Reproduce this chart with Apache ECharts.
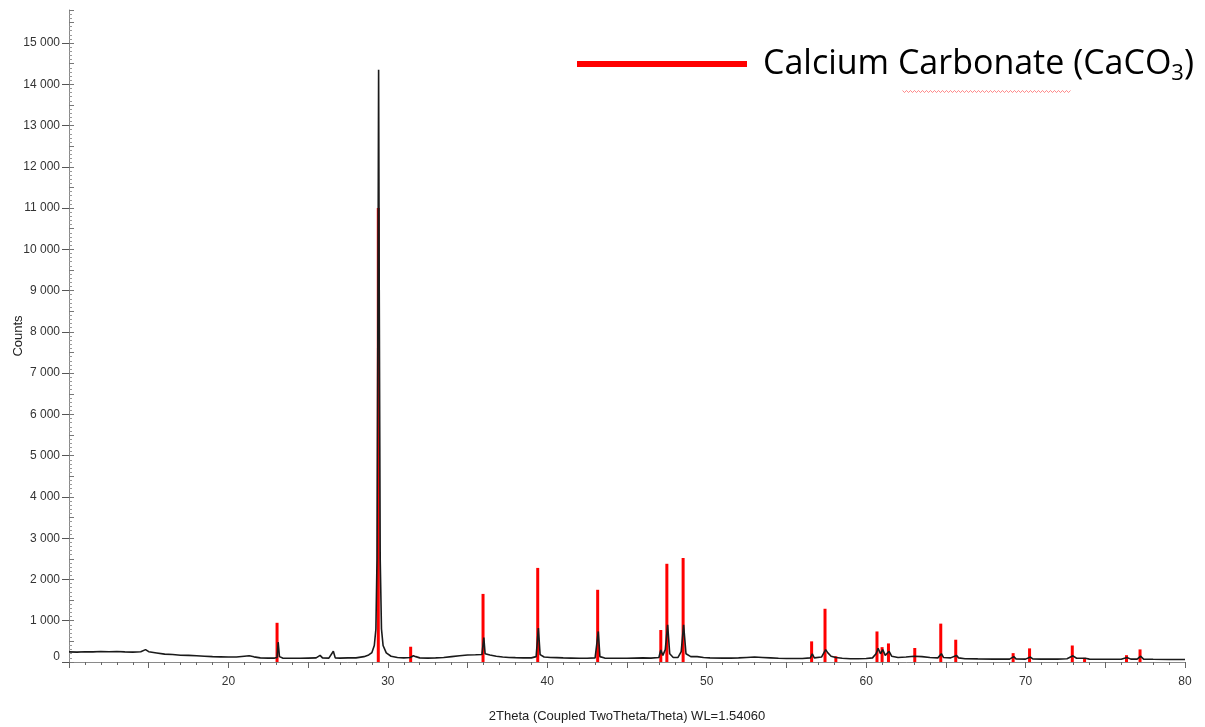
<!DOCTYPE html>
<html>
<head>
<meta charset="utf-8">
<script src="https://cdn.jsdelivr.net/npm/echarts@6/dist/echarts.min.js"></script>
<style>
html,body{margin:0;padding:0;background:#fff;}
#chart{width:1205px;height:727px;}
</style>
</head>
<body>
<div id="chart"></div>
<script>
// Measured diffractogram (2Theta, counts)
const expTheta = [10.0,10.5,11.0,11.5,12.0,12.5,13.0,13.5,14.0,14.5,14.8,15.0,15.5,16.0,16.5,17.0,17.5,18.0,18.5,19.0,19.5,20.0,20.5,21.0,21.3,21.6,22.0,22.5,22.9,23.05,23.12,23.2,23.4,24.0,24.5,25.0,25.5,25.75,25.9,26.3,26.58,26.7,27.0,27.5,28.0,28.5,28.8,29.0,29.15,29.25,29.32,29.38,29.42,29.46,29.52,29.6,29.7,29.9,30.2,30.6,31.0,31.4,31.6,31.75,32.0,32.5,33.0,33.5,34.0,34.5,35.0,35.5,35.9,36.02,36.1,36.4,36.8,37.2,37.6,38.0,38.5,39.0,39.3,39.44,39.55,39.8,40.2,40.6,41.0,41.5,42.0,42.5,43.0,43.2,43.3,43.6,44.0,44.5,45.0,45.5,46.0,46.5,47.0,47.12,47.25,47.4,47.55,47.68,47.9,48.2,48.4,48.55,48.7,49.0,49.4,49.8,50.2,51.0,51.5,52.0,52.5,53.0,53.5,54.0,54.5,55.0,55.5,56.0,56.5,56.62,56.75,57.2,57.46,57.6,57.8,58.1,58.5,59.0,59.5,60.0,60.4,60.62,60.75,60.9,61.04,61.2,61.44,61.6,62.0,62.5,63.0,63.5,64.0,64.5,64.72,64.85,65.3,65.66,65.8,66.2,67.0,68.0,69.0,69.26,69.4,70.0,70.3,70.45,71.0,72.0,72.6,72.97,73.2,73.74,74.0,75.0,76.0,76.36,76.6,77.0,77.22,77.4,78.0,79.0,80.0];
const expCounts = [245,240,250,245,255,250,255,245,240,250,300,250,220,190,180,165,160,150,140,130,125,120,120,140,150,125,100,95,95,110,480,130,95,90,90,95,100,160,100,95,260,100,95,100,100,130,170,230,400,800,2500,9000,14350,9000,2500,800,400,220,140,110,100,110,150,130,100,95,100,110,130,150,170,175,180,590,200,170,140,120,110,105,100,100,130,820,180,120,110,105,100,95,90,90,100,740,130,95,90,90,90,95,100,95,110,290,160,300,900,200,110,110,250,900,200,130,130,110,100,95,95,100,110,120,110,100,90,85,85,85,100,200,100,120,300,220,140,110,90,80,80,85,100,200,330,200,300,160,260,140,110,120,140,130,110,100,200,110,100,160,100,80,75,70,70,130,75,70,120,75,70,70,80,150,90,90,70,65,65,110,70,70,140,70,65,60,60];

// Reference pattern: Calcium Carbonate (CaCO3) stick positions and heights
const refTheta = [23.05,29.40,31.43,35.97,39.40,43.16,47.12,47.50,48.52,56.58,57.42,58.10,60.68,61.00,61.40,63.05,64.68,65.62,69.22,70.25,72.93,73.70,76.33,77.18];
const refCounts = [950,11000,370,1650,2280,1750,775,2380,2520,500,1290,140,740,360,450,340,930,540,215,330,400,100,165,305];

const xTickLabels = [20,30,40,50,60,70,80];
const yLabelThousands = ' ';
const refName = 'Calcium Carbonate (CaCO3)';

const expData = expTheta.map((t, i) => [t, expCounts[i]]);
const refData = refTheta.map((t, i) => [t, refCounts[i]]);

const chart = echarts.init(document.getElementById('chart'), null, {renderer: 'canvas'});

function fmtY(v) {
  if (v === 0) return '{z|0}';
  return String(v).replace(/\B(?=(\d{3})+(?!\d))/g, yLabelThousands);
}

// wavy underline (spell-check mark) under "Carbonate"
const wave = [];
for (let x = 900; x <= 1068; x += 2) wave.push([x, (x / 2) % 2 === 0 ? 0 : 2]);

const option = {
  animation: false,
  backgroundColor: '#ffffff',
  grid: {left: 69, right: 20, top: 10, bottom: 65, containLabel: false, outerBoundsMode: 'none'},
  legend: {
    data: [{name: refName, icon: 'rect'}],
    left: 572,
    top: 42,
    itemWidth: 170,
    itemHeight: 6,
    selectedMode: false,
    formatter: () => '{g| }Calcium Carbonate (CaCO{sub|3})',
    textStyle: {
      fontFamily: 'Open Sans',
      fontSize: 34,
      color: '#000',
      rich: {
        g: {width: 11, fontSize: 34},
        sub: {fontSize: 22, fontFamily: 'Open Sans', color: '#000', padding: [20, 0, 0, 0]}
      }
    }
  },
  graphic: [{
    type: 'polyline',
    left: 900, top: 88,
    shape: {points: wave},
    style: {stroke: '#ff6b6b', lineWidth: 0.8, fill: null},
    silent: true
  }],
  xAxis: {
    type: 'value',
    min: 10, max: 80, interval: 5,
    name: '2Theta (Coupled TwoTheta/Theta) WL=1.54060',
    nameLocation: 'middle',
    nameGap: 48,
    nameMoveOverlap: false,
    nameTextStyle: {fontFamily: 'Liberation Sans', fontSize: 13, color: '#222'},
    axisLine: {show: true, lineStyle: {color: '#8a8a8a', width: 1}},
    axisTick: {show: true, length: 6, lineStyle: {color: '#666'}},
    minorTick: {show: true, splitNumber: 5, length: 3, lineStyle: {color: '#666'}},
    splitLine: {show: false},
    axisLabel: {
      margin: 14,
      fontFamily: 'Liberation Sans', fontSize: 12, color: '#333',
      formatter: v => (xTickLabels.indexOf(v) >= 0 ? String(v) : '')
    }
  },
  yAxis: [{
    type: 'value',
    min: 0, max: 15800, interval: 1000,
    name: 'Counts',
    nameLocation: 'middle',
    nameGap: 44,
    nameMoveOverlap: false,
    nameTextStyle: {fontFamily: 'Liberation Sans', fontSize: 13, color: '#222'},
    axisLine: {show: true, lineStyle: {color: '#8a8a8a', width: 1}},
    axisTick: {show: true, length: 7, lineStyle: {color: '#555'}},
    splitLine: {show: false},
    axisLabel: {
      margin: 9,
      showMaxLabel: false,
      fontFamily: 'Liberation Sans', fontSize: 12, color: '#333',
      formatter: fmtY,
      rich: {z: {fontFamily: 'Liberation Sans', fontSize: 12, color: '#333', padding: [0, 0, 10, 0]}}
    }
  }, {
    type: 'value',
    position: 'left',
    min: 0, max: 15800, interval: 500,
    axisLine: {show: false},
    axisTick: {show: true, inside: true, length: 5, lineStyle: {color: '#777'}},
    minorTick: {show: true, splitNumber: 5, length: 3, lineStyle: {color: '#999'}},
    axisLabel: {show: false},
    splitLine: {show: false}
  }],
  series: [{
    name: refName,
    type: 'custom',
    xAxisIndex: 0, yAxisIndex: 0,
    data: refData,
    itemStyle: {color: '#ff0000'},
    z: 2,
    clip: true,
    renderItem: function (params, api) {
      const x = api.value(0), h = api.value(1);
      const p0 = api.coord([x, 0]);
      const p1 = api.coord([x, h]);
      return {
        type: 'line',
        shape: {x1: p0[0], y1: p0[1], x2: p1[0], y2: p1[1]},
        style: {stroke: '#ff0000', lineWidth: 3}
      };
    }
  }, {
    name: 'measured',
    type: 'line',
    xAxisIndex: 0, yAxisIndex: 0,
    data: expData,
    showSymbol: false,
    symbol: 'none',
    z: 3,
    lineStyle: {color: '#1a1a1a', width: 1.6},
    clip: true
  }]
};
chart.setOption(option);
</script>
</body>
</html>
